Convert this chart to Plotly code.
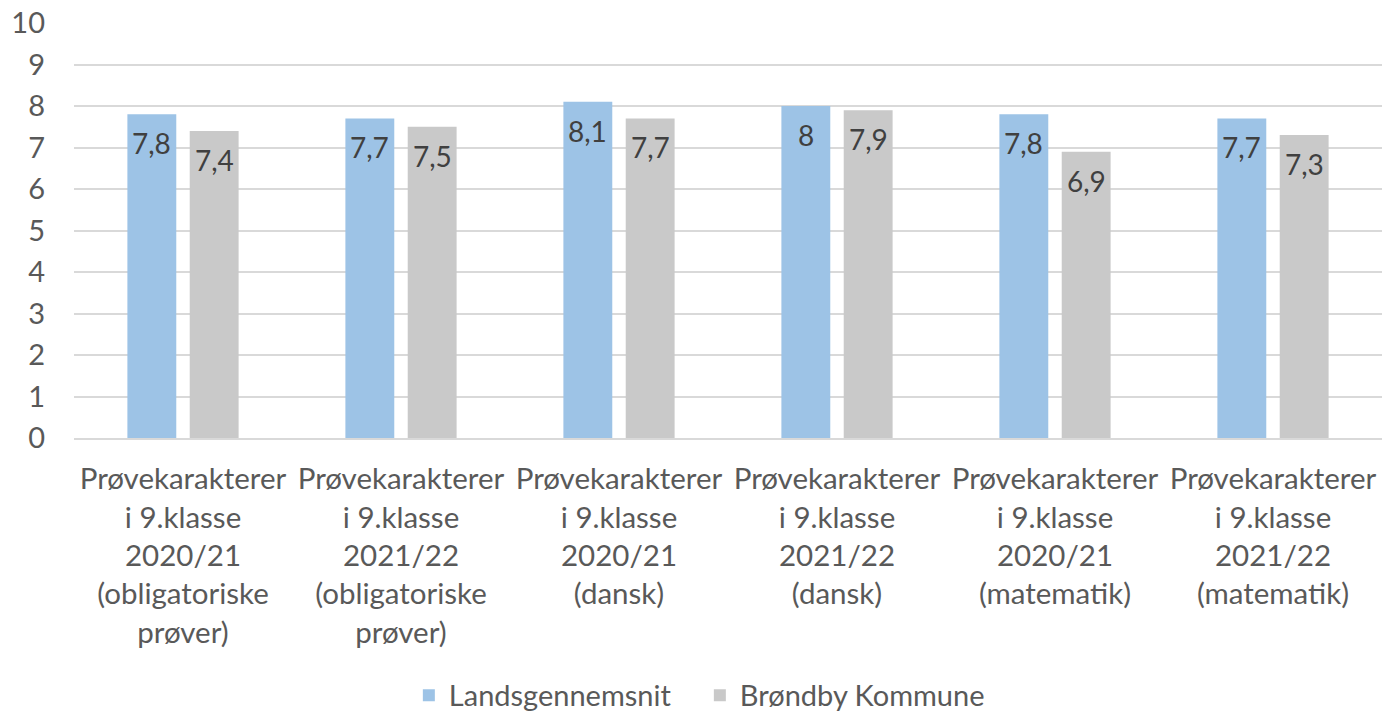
import plotly.graph_objects as go

categories = [
    "Prøvekarakterer<br>i 9.klasse<br>2020/21<br>(obligatoriske<br>prøver)",
    "Prøvekarakterer<br>i 9.klasse<br>2021/22<br>(obligatoriske<br>prøver)",
    "Prøvekarakterer<br>i 9.klasse<br>2020/21<br>(dansk)",
    "Prøvekarakterer<br>i 9.klasse<br>2021/22<br>(dansk)",
    "Prøvekarakterer<br>i 9.klasse<br>2020/21<br>(matematik)",
    "Prøvekarakterer<br>i 9.klasse<br>2021/22<br>(matematik)",
]
landsgennemsnit = [7.8, 7.7, 8.1, 8.0, 7.8, 7.7]
broendby = [7.4, 7.5, 7.7, 7.9, 6.9, 7.3]
series_names = ["Landsgennemsnit", "Brøndby Kommune"]
y_ticks = list(range(0, 11))

def fmt(v):
    return f"{v:g}".replace(".", ",")

FONT = "Lato"
SIZE = 29
fig = go.Figure()
series = [(series_names[0], landsgennemsnit, "#9DC3E6", -31.25),
          (series_names[1], broendby, "#C9C9C9", 31.25)]
for name, vals, color, xs in series:
    fig.add_trace(go.Bar(
        x=categories, y=vals, name=name, marker_color=color,
        marker_line_width=0, hoverinfo="x+y+name",
    ))
    for c, v in zip(categories, vals):
        fig.add_annotation(x=c, y=v, xref="x", yref="y", text=fmt(v),
                           showarrow=False, xshift=xs, yshift=-29,
                           yanchor="middle", xanchor="center",
                           font=dict(family=FONT, size=28, color="#404040"))

fig.update_layout(
    width=1382, height=712,
    margin=dict(l=74, r=0, t=23, b=274, autoexpand=False),
    paper_bgcolor="white", plot_bgcolor="white",
    barmode="group", bargap=0.428, bargroupgap=0.216,
    font=dict(family=FONT, size=SIZE, color="#595959"),
    showlegend=True,
    legend=dict(orientation="h", x=0.256, xanchor="left", y=-0.62, yanchor="middle",
                font=dict(family=FONT, size=SIZE, color="#595959"),
                entrywidth=246, traceorder="normal"),
)
fig.update_yaxes(range=[0, 10], tickvals=y_ticks, showgrid=True, gridcolor="#D9D9D9",
                 gridwidth=2, zeroline=False, ticks="", ticklabelstandoff=28,
                 automargin=False,
                 tickfont=dict(family=FONT, size=SIZE, color="#595959"))
fig.update_xaxes(showline=True, linecolor="#D9D9D9", linewidth=2, ticks="",
                 tickangle=0, ticklabelstandoff=14, automargin=False,
                 tickfont=dict(family=FONT, size=29.5, color="#595959"))

fig.write_html("out.html", config={"displayModeBar": False},
               post_script="document.body.style.margin='0';document.body.style.overflow='hidden';")
